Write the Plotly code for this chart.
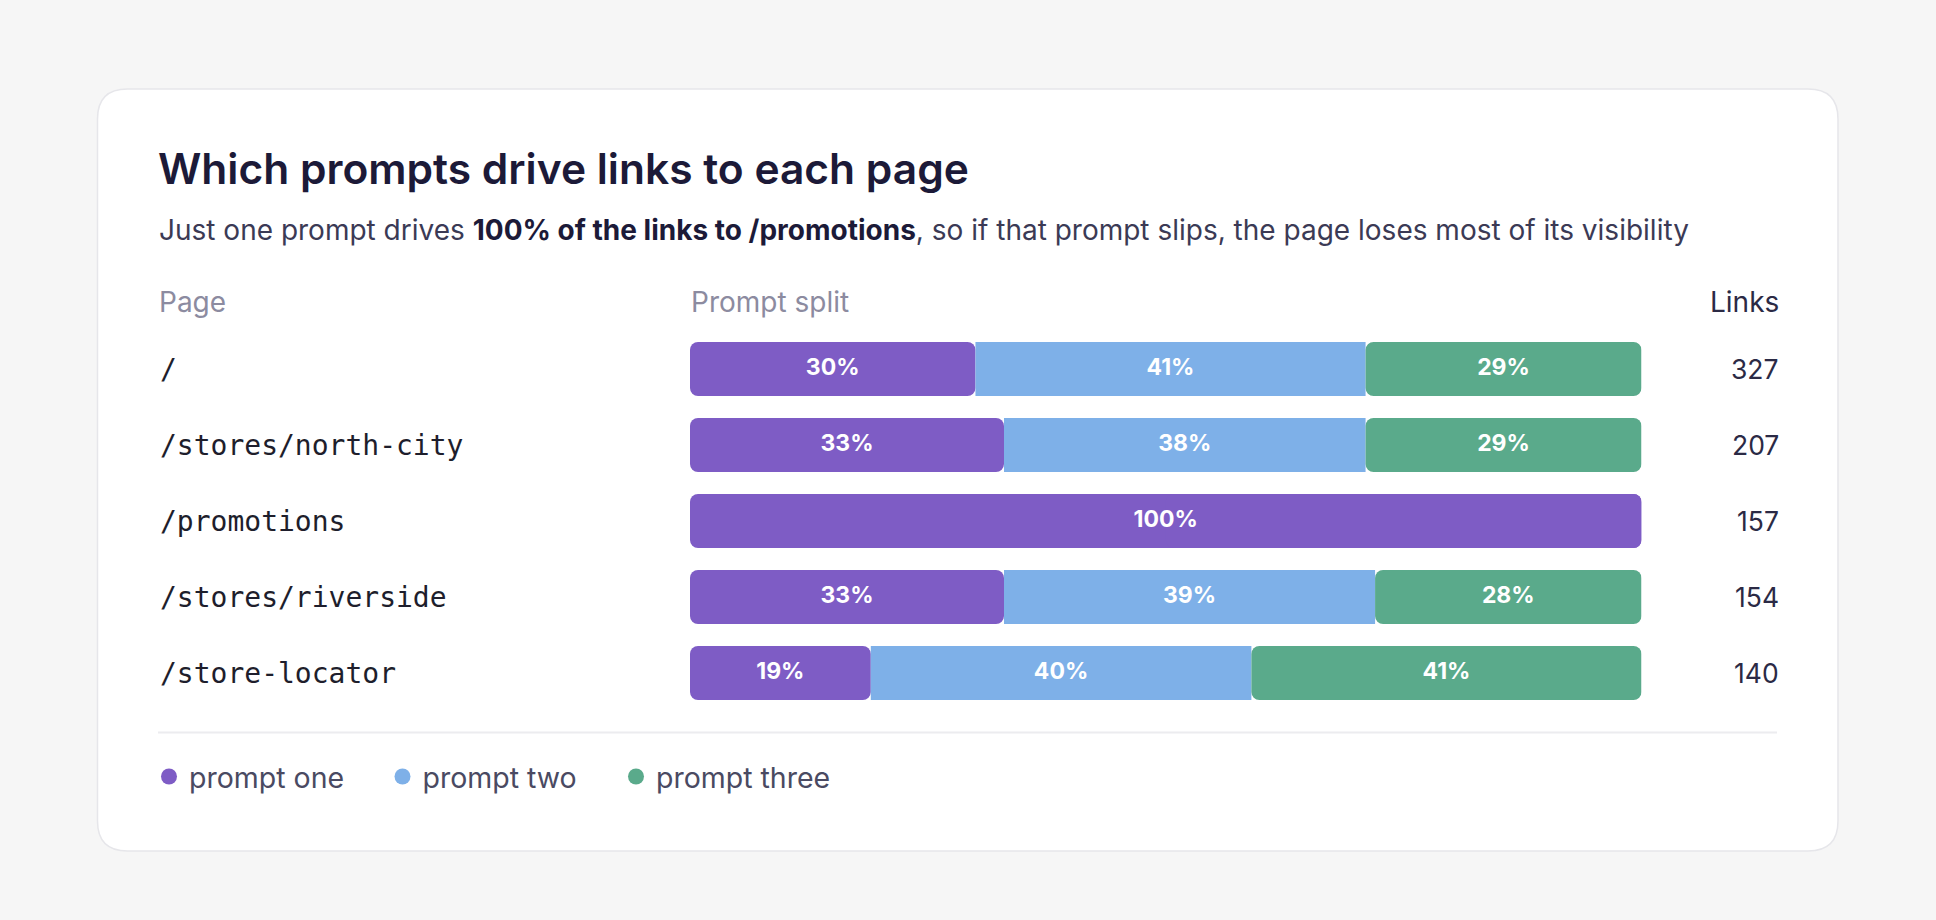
import plotly.graph_objects as go

# ---- data ----
pages = ["/", "/stores/north-city", "/promotions", "/stores/riverside", "/store-locator"]
prompt_one = [30, 33, 100, 33, 19]
prompt_two = [41, 38, 0, 39, 40]
prompt_three = [29, 29, 0, 28, 41]
links = [327, 207, 157, 154, 140]
series_names = ["prompt one", "prompt two", "prompt three"]
colors = ["#7E5CC5", "#7EB0E8", "#5AAA8B"]

W, H = 1936, 920
SANS = "Inter"


def px(x):
    return x / W


def py(y):
    return 1 - y / H


def rrect(x0, y0, x1, y1, r):
    rx, ry = r / W, r / H
    X0, X1, Y0, Y1 = px(x0), px(x1), py(y0), py(y1)
    return (f"M {X0+rx},{Y0} L {X1-rx},{Y0} Q {X1},{Y0} {X1},{Y0-ry} "
            f"L {X1},{Y1+ry} Q {X1},{Y1} {X1-rx},{Y1} L {X0+rx},{Y1} "
            f"Q {X0},{Y1} {X0},{Y1+ry} L {X0},{Y0-ry} Q {X0},{Y0} {X0+rx},{Y0} Z")


fig = go.Figure()
BW = 54 / 76
R = 8

# prompt one: drawn from its right edge back to 0 so the rounded end sits on the left
fig.add_trace(go.Bar(
    y=pages, x=[-v for v in prompt_one], base=prompt_one, orientation="h",
    marker=dict(color=colors[0], cornerradius=R, line=dict(width=0)),
    width=BW, showlegend=False, hoverinfo="skip"))
# rows where prompt one is the only segment also need a rounded right end
solo_y = [p for p, a, b, c in zip(pages, prompt_one, prompt_two, prompt_three) if b + c == 0]
solo_v = [a for p, a, b, c in zip(pages, prompt_one, prompt_two, prompt_three) if b + c == 0]
if solo_y:
    fig.add_trace(go.Bar(
        y=solo_y, x=[v / 2 for v in solo_v], base=[v / 2 for v in solo_v], orientation="h",
        marker=dict(color=colors[0], cornerradius=R, line=dict(width=0)),
        width=BW, showlegend=False, hoverinfo="skip"))
# prompt two: square segment in the middle
fig.add_trace(go.Bar(
    y=pages, x=prompt_two, base=prompt_one, orientation="h",
    marker=dict(color=colors[1], line=dict(width=0)),
    width=BW, showlegend=False, hoverinfo="skip"))
# prompt three: rounded at its right end
fig.add_trace(go.Bar(
    y=pages, x=prompt_three, base=[a + b for a, b in zip(prompt_one, prompt_two)], orientation="h",
    marker=dict(color=colors[2], cornerradius=R, line=dict(width=0)),
    width=BW, showlegend=False, hoverinfo="skip"))

# segment labels
lx, ly, lt = [], [], []
for i, p in enumerate(pages):
    start = 0
    for vals in (prompt_one, prompt_two, prompt_three):
        v = vals[i]
        if v > 0:
            lx.append(start + v / 2)
            ly.append(p)
            lt.append(f"{v}%")
        start += v
fig.add_trace(go.Scatter(
    x=lx, y=ly, text=lt, mode="text", textposition="middle center",
    textfont=dict(family=SANS, size=23, color="white", weight=700),
    showlegend=False, hoverinfo="skip"))

# legend entries
for name, c in zip(series_names, colors):
    fig.add_trace(go.Scatter(
        x=[None], y=[None], mode="markers", name=name,
        marker=dict(color=c, size=17, symbol="circle")))

annotations = []
# page labels and link counts
for p, n in zip(pages, links):
    annotations.append(dict(
        x=px(158), y=p, xref="paper", yref="y", text=p, showarrow=False,
        xanchor="left", yanchor="middle",
        font=dict(family="DejaVu Sans Mono", size=28, color="#1E1E2C")))
    annotations.append(dict(
        x=px(1781), y=p, xref="paper", yref="y", text=str(n), showarrow=False,
        xanchor="right", yanchor="middle",
        font=dict(family=SANS, size=26.5, color="#2B2A45")))

# title, subtitle, headers
annotations += [
    dict(x=px(156), y=py(168), xref="paper", yref="paper", showarrow=False,
         xanchor="left", yanchor="middle",
         text="Which prompts drive links to each page",
         font=dict(family=SANS, size=42.5, color="#1C1A38", weight=600)),
    dict(x=px(157), y=py(230), xref="paper", yref="paper", showarrow=False,
         xanchor="left", yanchor="middle",
         text="Just one prompt drives <b><span style='color:#1C1A38'>100% of the links to /promotions</span></b>, so if that prompt slips, the page loses most of its visibility",
         font=dict(family=SANS, size=28, color="#3B3A55")),
    dict(x=px(157), y=py(302), xref="paper", yref="paper", showarrow=False,
         xanchor="left", yanchor="middle", text="Page",
         font=dict(family=SANS, size=28, color="#8C8BA0")),
    dict(x=px(689), y=py(302), xref="paper", yref="paper", showarrow=False,
         xanchor="left", yanchor="middle", text="Prompt split",
         font=dict(family=SANS, size=28, color="#8C8BA0")),
    dict(x=px(1781), y=py(302), xref="paper", yref="paper", showarrow=False,
         xanchor="right", yanchor="middle", text="Links",
         font=dict(family=SANS, size=28, color="#2B2A45")),
]

shapes = [
    dict(type="path", xref="paper", yref="paper", layer="below",
         path=rrect(97.5, 89, 1838, 851, 30),
         fillcolor="white", line=dict(color="#E6E6EA", width=1.5)),
    dict(type="line", xref="paper", yref="paper", layer="below",
         x0=px(158), x1=px(1777), y0=py(732.5), y1=py(732.5),
         line=dict(color="#ECECEF", width=2)),
]

fig.update_layout(
    width=W, height=H,
    margin=dict(l=0, r=0, t=0, b=0),
    paper_bgcolor="#F6F6F6", plot_bgcolor="rgba(0,0,0,0)",
    barmode="overlay",
    xaxis=dict(range=[0, 100], domain=[px(690), px(1641.5)], visible=False, fixedrange=True),
    yaxis=dict(type="category", categoryorder="array", categoryarray=pages,
               range=[len(pages) - 0.5, -0.5], domain=[1 - 711 / H, 1 - 331 / H],
               visible=False, fixedrange=True),
    showlegend=True,
    legend=dict(orientation="h", x=px(149), y=py(777), xanchor="left", yanchor="middle",
                entrywidth=188.5, entrywidthmode="pixels", bgcolor="rgba(0,0,0,0)",
                font=dict(family=SANS, size=28.5, color="#4A4A62")),
    annotations=annotations, shapes=shapes,
)

fig.write_html(
    "out.html", config={"displayModeBar": False},
    post_script="document.body.style.margin='0';document.body.style.background='#F6F6F6';document.body.style.overflow='hidden';",
)
